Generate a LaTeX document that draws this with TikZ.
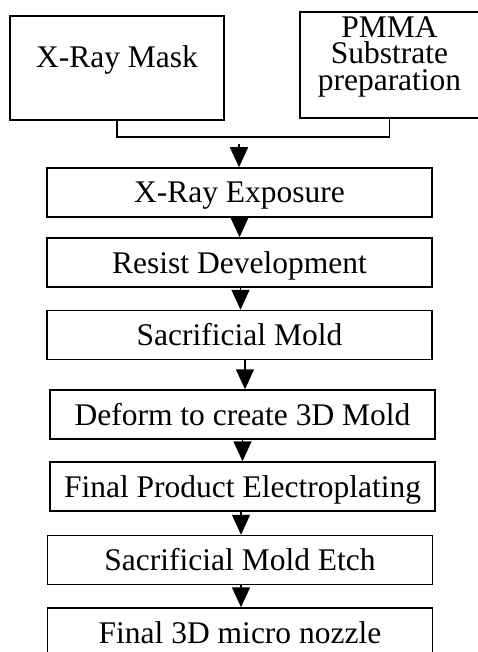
\documentclass[tikz,border=0pt]{standalone}
\usepackage{fontspec}
\setmainfont{Liberation Serif}
\usetikzlibrary{arrows.meta}
\tikzset{
  stepbox/.style={draw, line width=1.5pt, rectangle, inner sep=0pt,
    minimum height=49pt, text height=21pt, text depth=0pt,
    font=\fontsize{31.5}{33}\selectfont},
  wide/.style={minimum width=385pt},
  flow/.style={line width=1.5pt, -{Triangle[width=18pt,length=20pt]}},
  link/.style={line width=1.5pt},
}
\begin{document}
\begin{tikzpicture}[x=1pt,y=-1pt]
\useasboundingbox (0,0) rectangle (478,652);

% input boxes
\node[stepbox, minimum width=214pt, minimum height=104pt, text depth=21pt]
  (mask) at (117,68) {X-Ray Mask};
\node[draw, line width=1.5pt, minimum width=179pt, minimum height=106pt, inner sep=0pt]
  (pmma) at (389.5,65) {};
\node[align=center, inner sep=0pt,
  font=\fontsize{31.5}{26.5}\selectfont] (pmmatext) at (389.5,56.5)
  {PMMA\\Substrate\\preparation};

% process chain
\node[stepbox, wide] (expo)   at (239.5,192.5) {X-Ray Exposure};
\node[stepbox, wide] (devel)  at (239.5,262.5) {Resist Development};
\node[stepbox, wide] (sac)    at (239.5,335)   {Sacrificial Mold};
\node[stepbox, wide] (deform) at (242.5,414.5) {Deform to create 3D Mold};
\node[stepbox, wide] (plate)  at (242.5,486.5) {Final Product Electroplating};
\node[stepbox, wide] (etch)   at (240,560)     {Sacrificial Mold Etch};
\node[stepbox, wide] (nozzle) at (240,632.5)   {Final 3D micro nozzle};

% merge of the two inputs
\coordinate (bend) at (117,137);
\coordinate (feed) at (239,144);
\draw[link] (mask.south) -- (bend) -| (pmma.south);
\draw[flow] (feed) -- (feed |- expo.north);

% arrows between steps
\draw[flow] (expo.south) -- (expo.south |- devel.north);
\draw[flow] ([xshift=1pt]devel.south) -- ([xshift=1pt]devel.south |- sac.north);
\draw[flow] ([xshift=5.5pt]sac.south) -- ([xshift=5.5pt]sac.south |- deform.north);
\draw[flow] (deform.south) -- (deform.south |- plate.north);
\draw[flow] ([xshift=-1.5pt]plate.south) -- ([xshift=-1.5pt]plate.south |- etch.north);
\draw[flow] ([xshift=1pt]etch.south) -- ([xshift=1pt]etch.south |- nozzle.north);
\end{tikzpicture}
\end{document}
